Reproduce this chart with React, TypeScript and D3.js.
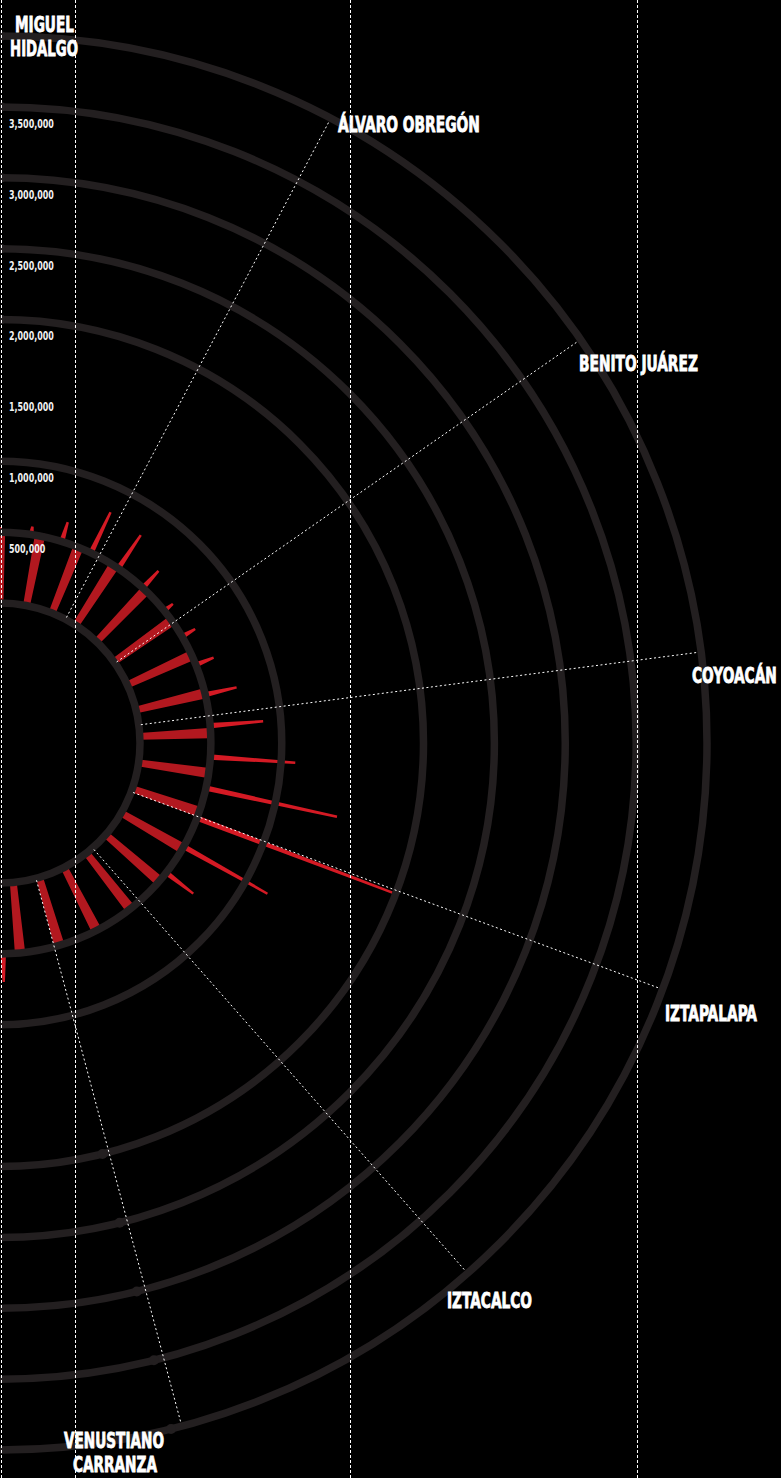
import React, { useLayoutEffect, useRef } from 'react';
import * as d3 from 'd3';

// ---------- data ----------
const ringValues = [0, 500000, 1000000, 2000000, 2500000, 3000000, 3500000, 4000000];
const tickValues = [500000, 1000000, 1500000, 2000000, 2500000, 3000000, 3500000];

// wide bars (17, evenly spread over the half circle)
const thickValues = [
  480000, 522000, 487000, 500000, 494000, 487000, 487000, 487000, 487000,
  487000, 500000, 494000, 500000, 508000, 508000, 508000, 515000,
];

// thin bars (22, evenly spread over the half circle)
const thinValues = [
  536000, 557000, 642000, 818000, 783000, 663000, 578000, 607000, 635000,
  727000, 875000, 1100000, 1446000, 1975000, 1178000, 741000,
  510000, 510000, 510000, 510000, 510000, 698000,
];

const delegations = [
  'MIGUEL HIDALGO',
  'ÁLVARO OBREGÓN',
  'BENITO JUÁREZ',
  'COYOACÁN',
  'IZTAPALAPA',
  'IZTACALCO',
  'VENUSTIANO CARRANZA',
];
const delegationAngles = [0, 27.9, 55.2, 82.6, 110.4, 138.6, 165.1];

// ---------- layout ----------
const W = 781;
const H = 1478;
const CX = 0;
const CY = 743;
const guideX = [1.5, 75.5, 350.5, 637.5];
const RING = '#231f20';
const THICK = '#b2181f';
const THIN = '#d41a24';
const FONT = "'Liberation Sans Narrow', 'DejaVu Sans Condensed', 'Liberation Sans', sans-serif";

// label placement: one entry per delegation, each with its lines
const labelLayout = [
  { anchor: 'middle', lines: [{ x: 44.5, y: 32, w: 59 }, { x: 44, y: 56, w: 68 }] },
  { anchor: 'start', lines: [{ x: 338, y: 132, w: 142 }] },
  { anchor: 'start', lines: [{ x: 579, y: 371, w: 119 }] },
  { anchor: 'start', lines: [{ x: 692, y: 683, w: 85 }] },
  { anchor: 'start', lines: [{ x: 665, y: 1021, w: 92 }] },
  { anchor: 'start', lines: [{ x: 447, y: 1308, w: 85 }] },
  { anchor: 'middle', lines: [{ x: 114, y: 1448, w: 100 }, { x: 115, y: 1472, w: 84 }] },
];
const TICK_SCALE = 0.77;

const rad = (d: number) => (d * Math.PI) / 180;

export default function App() {
  const svgRef = useRef<SVGSVGElement>(null);

  useLayoutEffect(() => {
    const svg = svgRef.current;
    if (!svg) return;
    svg.querySelectorAll('text[data-w]').forEach((node) => {
      const el = node as SVGTextElement;
      const w = +(el.getAttribute('data-w') || 0);
      const x = +(el.getAttribute('x') || 0);
      const nat = el.getComputedTextLength();
      if (nat > 0 && w > 0) {
        const s = w / nat;
        el.setAttribute('transform', `translate(${x},0) scale(${s},1) translate(${-x},0)`);
      }
    });
  }, []);

  const rScale = d3.scaleLinear().domain([0, 4000000]).range([140, 707]);
  const thickAngle = d3.scaleLinear().domain([0, thickValues.length - 1]).range([0, 174.55]);
  const thinAngle = d3.scaleLinear().domain([0, thinValues.length - 1]).range([0, 179.1]);
  const fmt = d3.format(',');

  const arc = d3.arc<any>();
  const thickHalf = 1.4; // degrees

  const polar = (r: number, deg: number): [number, number] => [
    CX + r * Math.sin(rad(deg)),
    CY - r * Math.cos(rad(deg)),
  ];

  const thinPath = (v: number, deg: number) => {
    const r0 = rScale(500000) - 1;
    const r1 = rScale(v);
    const hw0 = 2.7;
    const hw1 = 1.2;
    const nx = Math.cos(rad(deg));
    const ny = Math.sin(rad(deg));
    const [x0, y0] = polar(r0, deg);
    const [x1, y1] = polar(r1, deg);
    const pts: [number, number][] = [
      [x0 - hw0 * nx, y0 - hw0 * ny],
      [x1 - hw1 * nx, y1 - hw1 * ny],
      [x1 + hw1 * nx, y1 + hw1 * ny],
      [x0 + hw0 * nx, y0 + hw0 * ny],
    ];
    return d3.line()(pts) + 'Z';
  };

  const capRings = ringValues.filter((v) => v >= 2000000);

  return (
    <svg
      ref={svgRef}
      width={W}
      height={H}
      style={{ position: 'absolute', left: 0, top: 0, display: 'block', background: '#000' }}
    >
      <rect x={0} y={0} width={W} height={H} fill="#000" />

      {/* thick bars */}
      <g transform={`translate(${CX},${CY})`}>
        {thickValues.map((v, i) => {
          const a = thickAngle(i);
          return (
            <path
              key={'t' + i}
              d={arc({
                innerRadius: rScale(0),
                outerRadius: rScale(v),
                startAngle: rad(a - thickHalf),
                endAngle: rad(a + thickHalf),
              }) as string}
              fill={THICK}
            />
          );
        })}
      </g>

      {/* thin bars */}
      {thinValues.map((v, i) => (
        <path key={'n' + i} d={thinPath(v, thinAngle(i))} fill={THIN} />
      ))}

      {/* rings */}
      {ringValues.map((v, i) => (
        <circle key={'r' + i} cx={CX} cy={CY} r={rScale(v)} fill="none" stroke={RING} strokeWidth={7.5} />
      ))}
      {capRings.map((v, i) => {
        const [x0, y0] = polar(rScale(v), 0);
        const [x1, y1] = polar(rScale(v), 166);
        return (
          <g key={'c' + i} fill={RING}>
            <circle cx={x0 + 1} cy={y0} r={4.8} />
            <circle cx={x1} cy={y1} r={5} />
          </g>
        );
      })}

      {/* vertical guides */}
      {guideX.map((x, i) => (
        <line key={'g' + i} x1={x} x2={x} y1={0} y2={H} stroke="#fff" strokeWidth={1} strokeDasharray="3 2" />
      ))}

      {/* delegation spokes */}
      {delegationAngles.map((a, i) => {
        if (a === 0) return null;
        const [x0, y0] = polar(rScale(0) + 2, a);
        const [x1, y1] = polar(rScale(4000000) - 3, a);
        return (
          <line key={'s' + i} x1={x0} y1={y0} x2={x1} y2={y1} stroke="#fff" strokeWidth={1} strokeDasharray="2 2.5" />
        );
      })}

      {/* tick labels */}
      {tickValues.map((v, i) => (
        <text
          key={'k' + i}
          x={9}
          y={CY - rScale(v) + 21}
          transform={`translate(9,0) scale(${TICK_SCALE},1) translate(-9,0)`}
          fill="#f2f2f2"
          fontFamily={FONT}
          fontWeight="bold"
          fontSize={11.5}
        >
          {fmt(v)}
        </text>
      ))}

      {/* delegation labels */}
      {delegations.map((name, i) => {
        const lay = labelLayout[i];
        const parts = lay.lines.length > 1 ? name.split(' ') : [name];
        return (
          <g key={'l' + i}>
            {parts.map((p, j) => (
              <text
                key={j}
                x={lay.lines[j].x}
                y={lay.lines[j].y}
                data-w={lay.lines[j].w}
                textAnchor={lay.anchor as any}
                fill="#fff"
                stroke="#fff"
                strokeWidth={0.8}
                fontFamily={FONT}
                fontWeight="bold"
                fontSize={21}
              >
                {p}
              </text>
            ))}
          </g>
        );
      })}
    </svg>
  );
}
